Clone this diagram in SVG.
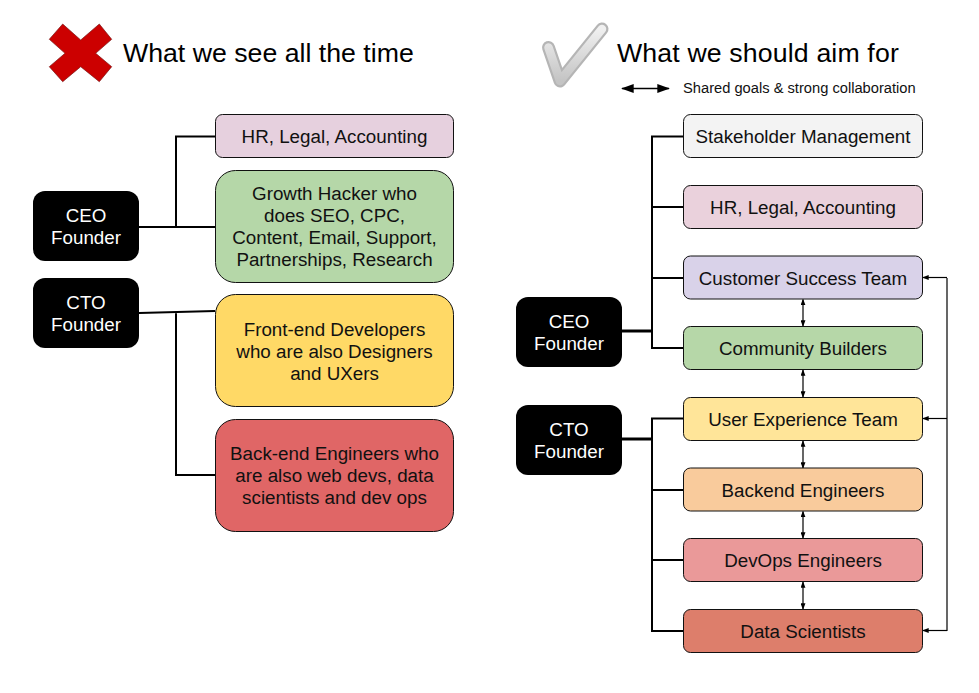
<svg xmlns="http://www.w3.org/2000/svg" width="979" height="693" viewBox="0 0 979 693">
<style>
text{font-family:"Liberation Sans",Arial,sans-serif;fill:#111;text-anchor:middle;font-size:18.8px}
.t{font-size:26.7px;text-anchor:start;fill:#000}
.s{font-size:14.7px;text-anchor:start}
.w{fill:#fff}
.b{stroke:#111;stroke-width:1}
.f{fill:#000}
.c{fill:none;stroke:#000;stroke-width:2}
.c2{fill:none;stroke:#000;stroke-width:3}
.a{fill:none;stroke:#000;stroke-width:1.2}
.h{fill:#000}
</style>
<defs>
<linearGradient id="g" x1="0" y1="0" x2="0" y2="1"><stop offset="0" stop-color="#f0f0f0"/><stop offset="1" stop-color="#c4c4c4"/></linearGradient>
<marker id="m" viewBox="0 0 8 6" refX="7" refY="3" markerWidth="6.500" markerHeight="5" markerUnits="userSpaceOnUse" orient="auto-start-reverse"><path d="M0 0L8 3L0 6z" fill="#000"/></marker>
<marker id="big" viewBox="0 0 14 10" refX="13" refY="5" markerWidth="14" markerHeight="9" markerUnits="userSpaceOnUse" orient="auto-start-reverse"><path d="M0 0L14 5L0 10z" fill="#000"/></marker>
</defs>
<g id="cross"><polygon points="62.7,24 80.7,40 99.3,24 111.7,39.3 95.7,53.3 111.7,66.7 99.3,81.7 80.7,66.7 62.7,81.7 49.3,66.7 65,53.3 49.3,39.3" fill="#cc0000" stroke="#7a1a1a" stroke-width="0.7"/></g>
<g id="check"><path d="M548.500 47.500L560 81L602 29" fill="none" stroke="#b5b5b5" stroke-width="13" stroke-linecap="round" stroke-linejoin="round"/><path d="M548.500 47.500L560 81L602 29" fill="none" stroke="url(#g)" stroke-width="8.500" stroke-linecap="round" stroke-linejoin="round"/></g>
<g id="titles"><text class="t" x="123" y="62">What we see all the time</text><text class="t" x="617" y="62" style="letter-spacing:0.14px">What we should aim for</text><text class="s" x="683" y="93">Shared goals &amp; strong collaboration</text></g>
<g id="connectors">
<path class="c" d="M139 227H215M176 227V136.500H215"/>
<path class="c" d="M139 313L215 311M176 312.500V475H215"/>
<path class="c2" d="M622 331H652"/>
<path class="c" d="M683 136.500H652V348H683M652 207H683M652 278H683"/>
<path class="c2" d="M622 439H652"/>
<path class="c" d="M683 418.500H652V631H683M652 490H683M652 560H683"/>
<path class="a" d="M947 278V631M947 418.500"/>
<path class="a" marker-end="url(#m)" d="M947 277.500H923"/>
<path class="a" marker-end="url(#m)" d="M947 418.500H923"/>
<path class="a" marker-end="url(#m)" d="M947 630.500H923"/>
<path class="a" marker-start="url(#m)" marker-end="url(#m)" d="M803 299.500V326"/>
<path class="a" marker-start="url(#m)" marker-end="url(#m)" d="M803 370V397"/>
<path class="a" marker-start="url(#m)" marker-end="url(#m)" d="M803 441V468"/>
<path class="a" marker-start="url(#m)" marker-end="url(#m)" d="M803 511.500V538"/>
<path class="a" marker-start="url(#m)" marker-end="url(#m)" d="M803 582V609"/>
<path class="c" style="stroke-width:1.500" marker-start="url(#big)" marker-end="url(#big)" d="M622 88.500H669"/>
</g>
<g id="ceo1"><rect class="f" x="33" y="191" width="106" height="70" rx="12"/><text class="w" x="86" y="222">CEO</text><text class="w" x="86" y="244">Founder</text></g>
<g id="cto1"><rect class="f" x="33" y="278" width="106" height="70" rx="12"/><text class="w" x="86" y="309">CTO</text><text class="w" x="86" y="331">Founder</text></g>
<g id="l1"><rect class="b" x="215.500" y="114.500" width="238" height="43" rx="7" fill="#e6d0de"/><text x="334.500" y="143">HR, Legal, Accounting</text></g>
<g id="l2"><rect class="b" x="215.500" y="170.500" width="238" height="112" rx="20" fill="#b5d7a8"/><text x="334.500" y="200">Growth Hacker who</text><text x="334.500" y="222">does SEO, CPC,</text><text x="334.500" y="244">Content, Email, Support,</text><text x="334.500" y="266">Partnerships, Research</text></g>
<g id="l3"><rect class="b" x="215.500" y="294.500" width="238" height="112" rx="20" fill="#ffd966"/><text x="334.500" y="336">Front-end Developers</text><text x="334.500" y="358">who are also Designers</text><text x="334.500" y="380">and UXers</text></g>
<g id="l4"><rect class="b" x="215.500" y="419.500" width="238" height="112" rx="20" fill="#e06666"/><text x="334.500" y="460">Back-end Engineers who</text><text x="334.500" y="482">are also web devs, data</text><text x="334.500" y="504">scientists and dev ops</text></g>
<g id="ceo2"><rect class="f" x="516" y="297" width="106" height="70" rx="12"/><text class="w" x="569" y="328">CEO</text><text class="w" x="569" y="350">Founder</text></g>
<g id="cto2"><rect class="f" x="516" y="405" width="106" height="70" rx="12"/><text class="w" x="569" y="436">CTO</text><text class="w" x="569" y="458">Founder</text></g>
<g id="r1"><rect class="b" x="683.500" y="114.500" width="239" height="43" rx="7" fill="#f3f3f3"/><text x="803" y="143">Stakeholder Management</text></g>
<g id="r2"><rect class="b" x="683.500" y="185.500" width="239" height="43" rx="7" fill="#ead1dc"/><text x="803" y="214">HR, Legal, Accounting</text></g>
<g id="r3"><rect class="b" x="683.500" y="256" width="239" height="43" rx="7" fill="#d9d2e9"/><text x="803" y="284.500">Customer Success Team</text></g>
<g id="r4"><rect class="b" x="683.500" y="326.500" width="239" height="43" rx="7" fill="#b6d7a8"/><text x="803" y="355">Community Builders</text></g>
<g id="r5"><rect class="b" x="683.500" y="397.500" width="239" height="43" rx="7" fill="#ffe599"/><text x="803" y="426">User Experience Team</text></g>
<g id="r6"><rect class="b" x="683.500" y="468" width="239" height="43" rx="7" fill="#f9cb9c"/><text x="803" y="496.500">Backend Engineers</text></g>
<g id="r7"><rect class="b" x="683.500" y="538.500" width="239" height="43" rx="7" fill="#ea9999"/><text x="803" y="567">DevOps Engineers</text></g>
<g id="r8"><rect class="b" x="683.500" y="609.500" width="239" height="43" rx="7" fill="#dd7e6b"/><text x="803" y="638">Data Scientists</text></g>
</svg>
